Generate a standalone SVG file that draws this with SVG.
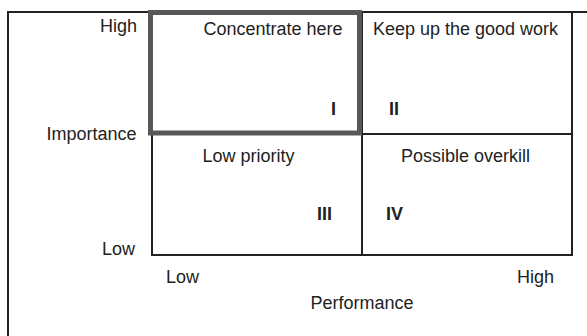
<svg xmlns="http://www.w3.org/2000/svg" width="587" height="336" viewBox="0 0 587 336">
<style>
text{font-family:"Liberation Sans",Arial,sans-serif;font-size:18px;fill:#222}
.b{font-weight:bold}
.m{text-anchor:middle}
.e{text-anchor:end}
.ln{fill:none;stroke:#222;stroke-width:2}
</style>
<rect width="587" height="336" fill="#fff"/>
<g id="frame"><path class="ln" d="M8,340 V12 H600"/></g>
<g id="grid">
<rect class="ln" x="152" y="12" width="420" height="243"/>
<line class="ln" x1="362" y1="12" x2="362" y2="255"/>
<line class="ln" x1="152" y1="134" x2="572" y2="134"/>
</g>
<g id="q1">
<rect x="150.5" y="12.5" width="209" height="120.5" fill="none" stroke="#585858" stroke-width="5"/>
<text class="m" x="273" y="34.5">Concentrate here</text>
<text class="b" x="331" y="115">I</text>
</g>
<g id="q2">
<text class="m" x="465.5" y="34.5">Keep up the good work</text>
<text class="b" x="389" y="115">II</text>
</g>
<g id="q3">
<text class="m" x="248.5" y="162">Low priority</text>
<text class="b" x="317" y="220">III</text>
</g>
<g id="q4">
<text class="m" x="465.5" y="162">Possible overkill</text>
<text class="b" x="386" y="220">IV</text>
</g>
<g id="yaxis">
<text class="e" x="137" y="32">High</text>
<text class="e" x="136.5" y="140">Importance</text>
<text class="e" x="135" y="255">Low</text>
</g>
<g id="xaxis">
<text x="166" y="283">Low</text>
<text class="e" x="554" y="283">High</text>
<text class="m" x="362" y="309">Performance</text>
</g>
</svg>
